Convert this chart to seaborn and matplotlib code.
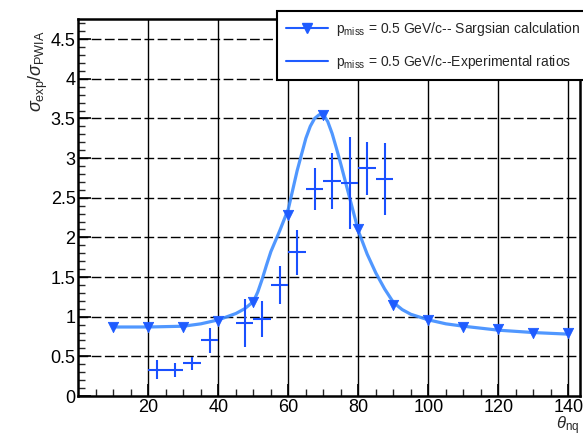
import matplotlib
matplotlib.use("Agg")
import matplotlib.pyplot as plt
from matplotlib.lines import Line2D
import numpy as np
import pandas as pd
import seaborn as sns

# Sargsian calculation: nodes and the smooth curve through them
calc_theta = [10, 20, 30, 40, 50, 60, 70, 80, 90, 100, 110, 120, 130, 140]
calc_ratio = [0.87, 0.87, 0.87, 0.95, 1.18, 2.28, 3.54, 2.10, 1.15, 0.96, 0.87, 0.84, 0.80, 0.79]

curve_theta = [10, 20, 30, 35, 40, 45, 47.5, 50, 51.25, 52.5, 53.75, 55, 57.5, 60, 62.5, 65,
               66.25, 67.5, 68.75, 70, 71.25, 72.5, 73.75, 75, 77.5, 80, 82.5, 85, 87.5, 90,
               92.5, 95, 100, 105, 110, 120, 130, 140]
curve_ratio = [0.87, 0.87, 0.88, 0.91, 0.96, 1.04, 1.10, 1.19, 1.31, 1.47, 1.65, 1.82, 2.08, 2.36,
               2.84, 3.25, 3.40, 3.50, 3.545, 3.55, 3.46, 3.31, 3.12, 2.92, 2.50, 2.08, 1.79, 1.55,
               1.35, 1.18, 1.09, 1.03, 0.96, 0.91, 0.88, 0.83, 0.80, 0.78]

# Experimental ratios (bin centres, half-widths, values, errors)
exp_theta = [22.5, 27.5, 32.5, 37.5, 47.5, 52.5, 57.5, 62.5, 67.5, 72.5, 77.5, 82.5, 87.5]
exp_halfwidth = [2.5] * 13
exp_ratio = [0.33, 0.33, 0.41, 0.70, 0.92, 0.97, 1.40, 1.81, 2.61, 2.71, 2.68, 2.87, 2.74]
exp_err = [0.12, 0.09, 0.085, 0.155, 0.30, 0.225, 0.24, 0.28, 0.27, 0.35, 0.58, 0.33, 0.455]

legend_labels = [r"p$_{\rm miss}$ = 0.5 GeV/c-- Sargsian calculation",
                 r"p$_{\rm miss}$ = 0.5 GeV/c--Experimental ratios"]

sns.set_style("white")
plt.rcParams["font.family"] = ["Liberation Sans Narrow", "Liberation Sans", "DejaVu Sans"]
plt.rcParams["mathtext.fontset"] = "custom"
plt.rcParams["mathtext.rm"] = "Liberation Sans"
plt.rcParams["mathtext.it"] = "Liberation Sans:italic"

W, H = 583, 436
fig = plt.figure(figsize=(W / 100, H / 100), dpi=100)
ax = fig.add_axes([78.3 / W, 1 - 396 / H, (580 - 78.3) / W, (396 - 19.3) / H])

curve_df = pd.DataFrame({"theta": curve_theta, "ratio": curve_ratio})
calc_df = pd.DataFrame({"theta": calc_theta, "ratio": calc_ratio})

line_col = "#3d8cff"
mark_col = "#1f5cff"
cross_col = "#1a50ff"

sns.lineplot(data=curve_df, x="theta", y="ratio", ax=ax, color=line_col, lw=2.3,
             alpha=0.9, zorder=4, sort=True, estimator=None)
ax.lines[-1].set_solid_joinstyle("round")
sns.scatterplot(data=calc_df, x="theta", y="ratio", ax=ax, marker="v", s=55,
                color=mark_col, edgecolor=mark_col, zorder=5)
ax.errorbar(exp_theta, exp_ratio, xerr=exp_halfwidth, yerr=exp_err, fmt="none",
            ecolor=cross_col, elinewidth=1.5, capsize=0, zorder=6)

ax.set_xlim(0, 143.3)
ax.set_ylim(0, 4.75)
ax.set_xticks(np.arange(20, 141, 20))
ax.set_xticks(np.arange(5, 144, 5), minor=True)
ax.set_yticks(np.arange(0, 4.51, 0.5))
ax.set_yticks(np.arange(0, 4.75, 0.1), minor=True)
ax.set_yticklabels(["0", "0.5", "1", "1.5", "2", "2.5", "3", "3.5", "4", "4.5"])

# grid: solid verticals, dashed horizontals
for xv in np.arange(20, 141, 20):
    ax.axvline(xv, color="black", lw=1.0, zorder=1)
for yv in np.arange(0.5, 4.51, 0.5):
    ax.axhline(yv, color="black", lw=1.0, dashes=(7, 2.5), zorder=1)

for side in ["left", "bottom", "top", "right"]:
    ax.spines[side].set_linewidth(1.8)
    ax.spines[side].set_color("black")
ax.tick_params(axis="both", which="major", direction="in", length=9, width=1.2,
               labelsize=13, colors="black", left=True, bottom=True, top=False, right=False, pad=2)
ax.tick_params(axis="both", which="minor", direction="in", length=5, width=1.0,
               left=True, bottom=True, top=False, right=False)
ax.set_xlabel("")
ax.set_ylabel("")

fig.text(38 / W, 1 - 30 / H, r"$\sigma_{\rm exp}/\sigma_{\rm PWIA}$", rotation=90,
         ha="center", va="top", fontsize=13)
fig.text(556 / W, 1 - 414 / H, r"$\theta_{\rm nq}$", ha="left", va="top", fontsize=12)

handles = [Line2D([0], [0], color=mark_col, lw=1.5, marker="v", markersize=7),
           Line2D([0], [0], color=mark_col, lw=1.5)]
leg = fig.legend(handles, legend_labels, loc="upper left",
                 bbox_to_anchor=(277 / W, 1 - 11 / H), borderaxespad=0, fontsize=10,
                 frameon=True, fancybox=False, framealpha=1, edgecolor="black",
                 handlelength=3.0, handletextpad=0.6, borderpad=0.65, labelspacing=1.05)
leg.get_frame().set_linewidth(1.5)
leg.set_zorder(10)

fig.savefig("out.png", dpi=100)
